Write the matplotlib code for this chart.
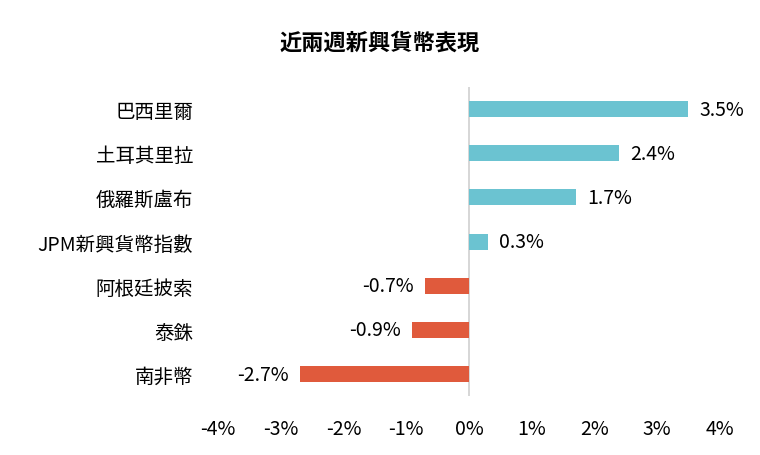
import matplotlib
matplotlib.use("Agg")
import matplotlib.pyplot as plt

plt.rcParams["font.family"] = ["Noto Sans CJK TC", "Noto Sans CJK JP", "Noto Sans CJK SC",
                               "Noto Sans CJK KR", "DejaVu Sans"]

# 資料
categories = ["巴西里爾", "土耳其里拉", "俄羅斯盧布", "JPM新興貨幣指數", "阿根廷披索", "泰銖", "南非幣"]
values = [3.5, 2.4, 1.7, 0.3, -0.7, -0.9, -2.7]
xticks = [-4, -3, -2, -1, 0, 1, 2, 3, 4]

fig = plt.figure(figsize=(7.6, 4.56), dpi=100)
ax = fig.add_axes([0.287, 0.129, 0.66, 0.678])

colors = ["#6BC3D1" if v >= 0 else "#E05A3C" for v in values]
y = list(range(len(categories)))
ax.barh(y, values, height=0.36, color=colors, zorder=2)

for yi, v in zip(y, values):
    if v >= 0:
        ax.text(v + 0.18, yi, f"{v:.1f}%", va="center", ha="left", fontsize=14)
    else:
        ax.text(v - 0.18, yi, f"{v:.1f}%", va="center", ha="right", fontsize=14)

ax.axvline(0, color="#D0D0D0", lw=1.2, zorder=1)
ax.set_xlim(-4, 4)
ax.set_ylim(len(categories) - 0.5, -0.5)
ax.set_yticks(y)
ax.set_yticklabels(categories, fontsize=14)
ax.set_xticks(xticks)
ax.set_xticklabels([f"{t}%" for t in xticks], fontsize=14)
ax.tick_params(length=0)
ax.tick_params(axis="y", pad=18)
ax.tick_params(axis="x", pad=16)
for s in ax.spines.values():
    s.set_visible(False)

fig.text(0.5, 0.905, "近兩週新興貨幣表現", ha="center", va="center", fontsize=16, fontweight="bold")

fig.savefig("out.png", dpi=100)
